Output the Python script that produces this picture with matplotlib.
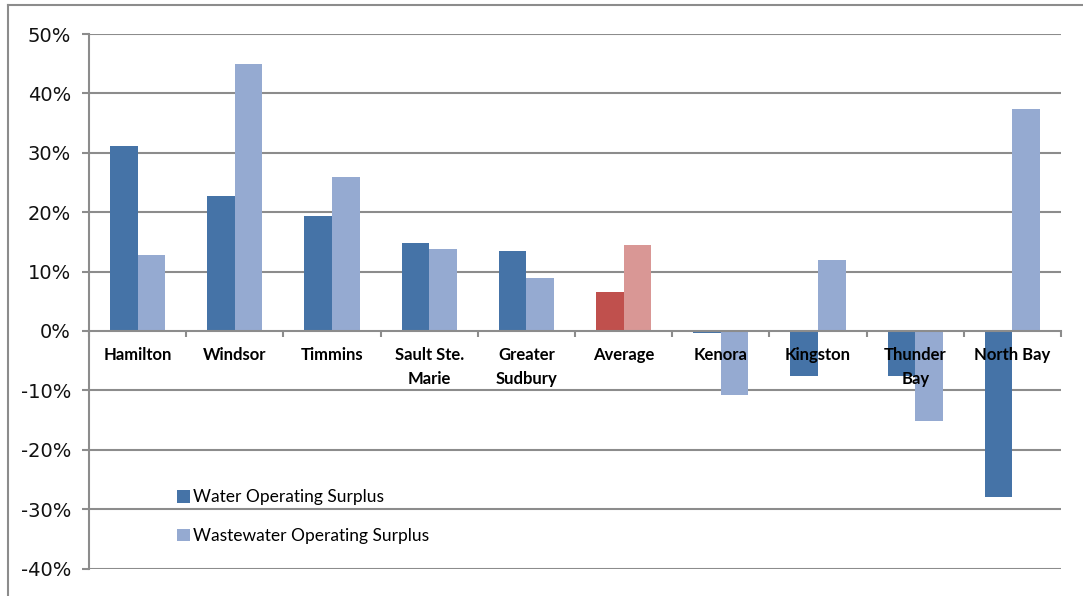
import matplotlib
matplotlib.use('Agg')
import matplotlib.pyplot as plt
from matplotlib.lines import Line2D
from matplotlib.ticker import FuncFormatter, MultipleLocator
import numpy as np

cities = ['Hamilton', 'Windsor', 'Timmins', 'Sault Ste.\nMarie', 'Greater\nSudbury',
          'Average', 'Kenora', 'Kingston', 'Thunder\nBay', 'North Bay']
water = [31.1, 22.7, 19.4, 14.8, 13.5, 6.6, -0.3, -7.6, -7.6, -27.9]
wastewater = [12.8, 44.9, 25.9, 13.8, 8.9, 14.5, -10.8, 12.0, -15.2, 37.4]

DARK = '#4573a7'
LIGHT = '#95aad1'
RED = '#c0504d'
LIGHT_RED = '#d99795'
GRID = '#8c8c8c'

fig = plt.figure(figsize=(10.83, 5.96), dpi=100)
ax = fig.add_axes([89 / 1083, 1 - 568.5 / 596, (1061 - 89) / 1083, (568.5 - 34) / 596])

x = np.arange(len(cities))
w = 0.283
avg = cities.index('Average')
c1 = [RED if i == avg else DARK for i in x]
c2 = [LIGHT_RED if i == avg else LIGHT for i in x]
b1 = ax.bar(x - w / 2, water, w, color=c1, zorder=2, label='Water Operating Surplus')
b2 = ax.bar(x + w / 2, wastewater, w, color=c2, zorder=2, label='Wastewater Operating Surplus')

ax.set_xlim(-0.5, len(cities) - 0.5)
ax.set_ylim(-40, 50)
ax.yaxis.set_major_locator(MultipleLocator(10))
ax.yaxis.set_major_formatter(FuncFormatter(lambda v, p: f'{v:.0f}%'))
for v in range(-40, 51, 10):
    if v != 0:
        ax.axhline(v, color=GRID, lw=1.5, zorder=0)

for s in ['top', 'right']:
    ax.spines[s].set_visible(False)
ax.spines['left'].set_color(GRID)
ax.spines['left'].set_linewidth(1.5)
ax.spines['bottom'].set_position(('data', 0))
ax.spines['bottom'].set_color(GRID)
ax.spines['bottom'].set_linewidth(1.5)
ax.spines['bottom'].set_zorder(3)

ax.tick_params(axis='y', direction='out', length=5, width=1.5, color=GRID,
               labelsize=14, pad=8, labelcolor='#111111')
ax.set_xticks([])
ax.set_xticks(np.arange(-0.5, len(cities)), minor=True)
ax.tick_params(axis='x', which='minor', direction='out', length=4, width=1.5, color=GRID)

# category names sit just under the zero line, drawn over the bars
for i, name in enumerate(cities):
    ax.annotate(name, (i, 0), xytext=(0, -11.5), textcoords='offset points',
                ha='center', va='top', fontsize=12, fontweight='bold',
                family='Lato', linespacing=1.65, zorder=5, annotation_clip=False)

ax.legend(handles=[b1[0], b2[0]], labels=['Water Operating Surplus', 'Wastewater Operating Surplus'],
          loc='center left', bbox_to_anchor=(0.0905, 0.097), frameon=False,
          borderpad=0, borderaxespad=0,
          prop={'family': 'Lato', 'size': 12.5}, handlelength=0.75, handleheight=0.75,
          handletextpad=0.2, labelspacing=1.3)

# outer chart border
fig.add_artist(Line2D([8 / 1083, 1], [1 - 5 / 596, 1 - 5 / 596], color=GRID, lw=1.5))
fig.add_artist(Line2D([8 / 1083, 8 / 1083], [0, 1 - 5 / 596], color=GRID, lw=1.5))

fig.savefig('out.png', dpi=100)
